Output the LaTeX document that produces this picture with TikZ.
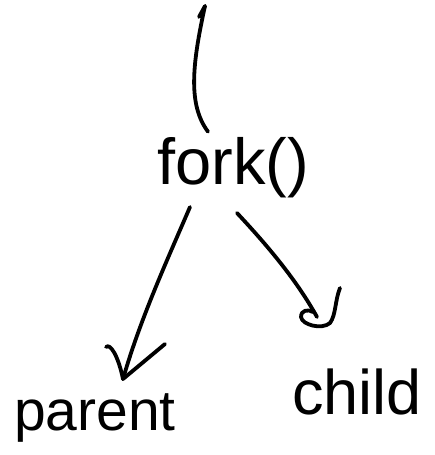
\documentclass[tikz,border=0pt]{standalone}
\usepackage{fontspec}
\setmainfont{Liberation Sans}
\begin{document}
\begin{tikzpicture}[x=1pt,y=1pt,
  ink/.style={line width=3.8pt,line cap=round,line join=round,black},
  word/.style={inner sep=0pt,anchor=base}]
\useasboundingbox (0,0) rectangle (434,455);
% labels
\node[word,font=\fontsize{65}{65}\selectfont] (fork) at (233,270) {fork()};
\node[word,font=\fontsize{57}{57}\selectfont] (parent) at (95,24) {parent};
\node[word,font=\fontsize{63}{63}\selectfont] (child) at (357,40) {child};
\coordinate (top) at (205,449);
% incoming line
\draw[ink] (top) -- ++(-6,-11);
\draw[ink] (top) .. controls (192,390) and (188,350) .. ([xshift=-25pt,yshift=6pt]fork.north);
% branch to parent
\draw[ink] ([xshift=-43pt,yshift=-22pt]fork.base) .. controls (165,190) and (140,135) .. ([xshift=28pt,yshift=52pt]parent.base);
\draw[ink] ([xshift=11pt,yshift=84pt]parent.base) .. controls (110,112) and (118,100) .. ([xshift=28pt,yshift=52pt]parent.base) -- ([xshift=70pt,yshift=87pt]parent.base);
% branch to child with a curled head
\draw[ink] ([xshift=4pt,yshift=-28pt]fork.base) .. controls (266,211) and (296,176) .. ([xshift=-40pt,yshift=98pt]child.base);
\draw[ink] ([xshift=-17pt,yshift=127pt]child.base) .. controls (335,155) and (336,140) .. (330,132)
  .. controls (322,125) and (302,130) .. (301,138) .. controls (301,145) and (308,146) .. (313,143);
\end{tikzpicture}
\end{document}
